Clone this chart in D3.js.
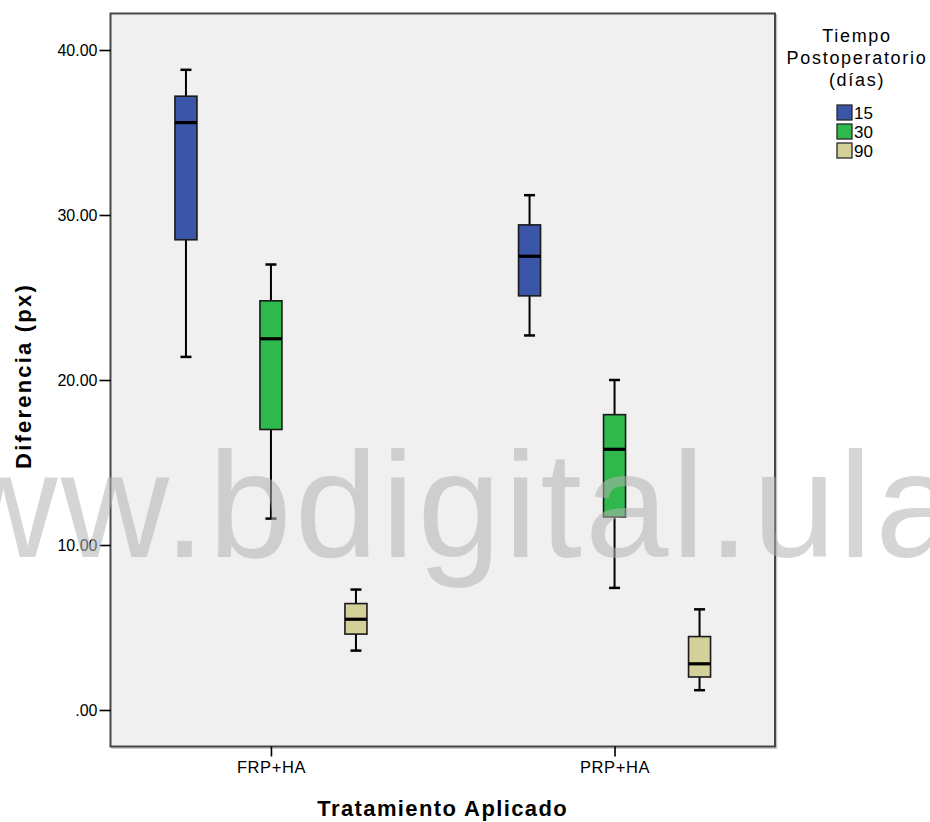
<!DOCTYPE html>
<html>
<head>
<meta charset="utf-8">
<script src="https://cdn.jsdelivr.net/npm/d3@7"></script>
<style>
  html, body { margin: 0; padding: 0; background: #ffffff; }
  svg { display: block; }
  text { font-family: "Liberation Sans", Arial, sans-serif; }
</style>
</head>
<body>
<svg id="chart" width="930" height="822"></svg>
<script>
// Treatments on the x axis and post-operative time groups (days)
const categories = ["FRP+HA", "PRP+HA"];
const series = ["15", "30", "90"];
const seriesColors = ["#3b56a9", "#2fb84b", "#d4d09a"];

// Box-plot summaries per treatment, one entry per time group
const whiskerLow  = { "FRP+HA": [21.4, 11.6, 3.6], "PRP+HA": [22.7, 7.4, 1.2] };
const quartile1   = { "FRP+HA": [28.5, 17.0, 4.6], "PRP+HA": [25.1, 11.7, 2.0] };
const medians     = { "FRP+HA": [35.6, 22.5, 5.5], "PRP+HA": [27.5, 15.8, 2.8] };
const quartile3   = { "FRP+HA": [37.2, 24.8, 6.45], "PRP+HA": [29.4, 17.9, 4.45] };
const whiskerHigh = { "FRP+HA": [38.8, 27.0, 7.3], "PRP+HA": [31.2, 20.0, 6.1] };

const yTicks = [0, 10, 20, 30, 40];
const yTickLabels = [".00", "10.00", "20.00", "30.00", "40.00"];

const svg = d3.select("#chart");
const plot = { left: 110.5, top: 13.5, right: 775, bottom: 746.5 };

const y = d3.scaleLinear().domain([0, 40]).range([710, 50]);
const x = d3.scalePoint().domain(categories)
  .range([plot.left, plot.right]).padding(0.467);
const xSub = d3.scaleBand().domain(series).range([-127.5, 127.5]);
const boxW = 22;
const capW = 11;

// Plot background and frame
svg.append("rect")
  .attr("x", plot.left + 1.5).attr("y", plot.top + 1.5)
  .attr("width", plot.right - plot.left).attr("height", plot.bottom - plot.top)
  .attr("fill", "none").attr("stroke", "#c4c4c4").attr("stroke-width", 1.5);
svg.append("rect")
  .attr("x", plot.left).attr("y", plot.top)
  .attr("width", plot.right - plot.left).attr("height", plot.bottom - plot.top)
  .attr("fill", "#f0f0f0").attr("stroke", "#474747").attr("stroke-width", 2);

// Y axis
const yAxis = d3.axisLeft(y).tickValues(yTicks)
  .tickFormat((d, i) => yTickLabels[i]).tickSize(11).tickPadding(2);
const gy = svg.append("g").attr("transform", `translate(${plot.left},0)`).call(yAxis);
gy.select(".domain").remove();
gy.selectAll(".tick line").attr("stroke", "#000").attr("stroke-width", 1.6);
gy.selectAll(".tick text").attr("font-size", 16).attr("font-family", "Liberation Sans, Arial, sans-serif").attr("fill", "#000");

// X axis
const xAxis = d3.axisBottom(x).tickSize(10).tickPadding(5);
const gx = svg.append("g").attr("transform", `translate(0,${plot.bottom})`).call(xAxis);
gx.select(".domain").remove();
gx.selectAll(".tick line").attr("stroke", "#000").attr("stroke-width", 1.6);
gx.selectAll(".tick text").attr("font-size", 16.5).attr("letter-spacing", 0.6)
  .attr("font-family", "Liberation Sans, Arial, sans-serif").attr("fill", "#000");

// Boxes
const rows = [];
categories.forEach(c => series.forEach((s, i) => rows.push({
  cat: c, s, i,
  lo: whiskerLow[c][i], q1: quartile1[c][i], med: medians[c][i],
  q3: quartile3[c][i], hi: whiskerHigh[c][i]
})));

const g = svg.append("g").selectAll("g.box").data(rows).join("g")
  .attr("class", "box")
  .attr("transform", d => `translate(${x(d.cat) + xSub(d.s) + xSub.bandwidth() / 2},0)`);

g.append("line").attr("x1", 0).attr("x2", 0)
  .attr("y1", d => y(d.hi)).attr("y2", d => y(d.q3))
  .attr("stroke", "#000").attr("stroke-width", 2);
g.append("line").attr("x1", 0).attr("x2", 0)
  .attr("y1", d => y(d.q1)).attr("y2", d => y(d.lo))
  .attr("stroke", "#000").attr("stroke-width", 2);
g.append("line").attr("x1", -capW / 2).attr("x2", capW / 2)
  .attr("y1", d => y(d.hi)).attr("y2", d => y(d.hi))
  .attr("stroke", "#000").attr("stroke-width", 2.5);
g.append("line").attr("x1", -capW / 2).attr("x2", capW / 2)
  .attr("y1", d => y(d.lo)).attr("y2", d => y(d.lo))
  .attr("stroke", "#000").attr("stroke-width", 2.5);
g.append("rect")
  .attr("x", -boxW / 2).attr("width", boxW)
  .attr("y", d => y(d.q3)).attr("height", d => y(d.q1) - y(d.q3))
  .attr("fill", d => seriesColors[d.i])
  .attr("stroke", "#1a1a1a").attr("stroke-width", 1.6);
g.append("line").attr("x1", -boxW / 2).attr("x2", boxW / 2)
  .attr("y1", d => y(d.med)).attr("y2", d => y(d.med))
  .attr("stroke", "#000").attr("stroke-width", 3.2);

// Axis titles
svg.append("text")
  .attr("x", (plot.left + plot.right) / 2).attr("y", 816)
  .attr("text-anchor", "middle").attr("font-size", 22).attr("font-weight", "bold")
  .attr("letter-spacing", 1.4)
  .text("Tratamiento Aplicado");
svg.append("text")
  .attr("transform", "translate(31,376) rotate(-90)")
  .attr("text-anchor", "middle").attr("font-size", 22).attr("font-weight", "bold")
  .attr("letter-spacing", 2.2)
  .text("Diferencia (px)");

// Legend
const legendTitle = ["Tiempo", "Postoperatorio", "(días)"];
svg.append("g").selectAll("text").data(legendTitle).join("text")
  .attr("x", 857).attr("y", (d, i) => 42 + i * 22)
  .attr("text-anchor", "middle").attr("font-size", 18).attr("letter-spacing", 1.7)
  .text(d => d);
const lg = svg.append("g").selectAll("g").data(series).join("g")
  .attr("transform", (d, i) => `translate(837,${105 + i * 19})`);
lg.append("rect").attr("width", 15).attr("height", 15)
  .attr("fill", (d, i) => seriesColors[i]).attr("stroke", "#2a2a2a").attr("stroke-width", 1.3);
lg.append("text").attr("x", 17).attr("y", 13.5).attr("font-size", 17).text(d => d);

// Site watermark laid over the chart
svg.append("text")
  .attr("x", -162).attr("y", 557)
  .attr("font-family", "'Open Sans', sans-serif").attr("font-size", 150)
  .attr("letter-spacing", 3)
  .attr("fill", "rgb(178,178,178)").attr("fill-opacity", 0.55)
  .text("www.bdigital.ula.ve");
</script>
</body>
</html>
